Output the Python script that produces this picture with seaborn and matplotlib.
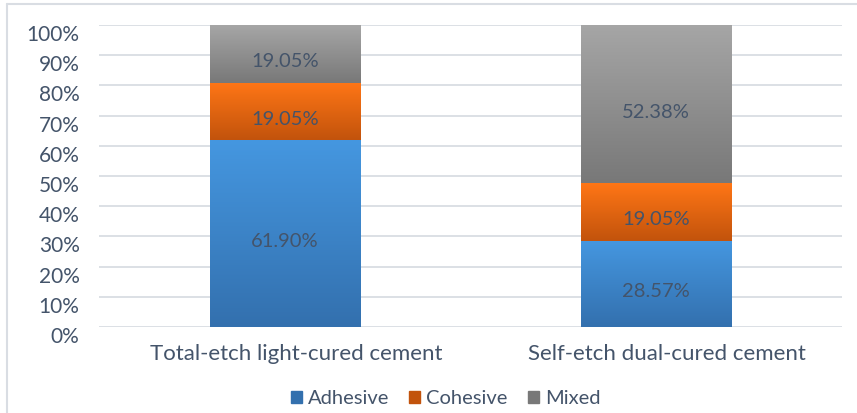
import matplotlib.pyplot as plt
import matplotlib.colors as mcolors
import matplotlib.transforms as mtransforms
import numpy as np
import pandas as pd
import seaborn as sns

# data
categories = ["Total-etch light-cured cement", "Self-etch dual-cured cement"]
series_names = ["Adhesive", "Cohesive", "Mixed"]
adhesive = [61.90, 28.57]
cohesive = [19.05, 19.05]
mixed = [19.05, 52.38]

# gradient (top, bottom) for each series, Excel-like
grad_colors = {
    "Adhesive": ("#4597E0", "#3370AE"),
    "Cohesive": ("#FF7616", "#C2530C"),
    "Mixed": ("#A6A6A6", "#787878"),
}
text_color = "#44546A"
grid_color = "#D9DDE3"

sns.set_theme(style="white")
plt.rcParams["font.family"] = ["Lato", "DejaVu Sans"]

df = pd.DataFrame({"category": categories, "Adhesive": adhesive,
                   "Cohesive": cohesive, "Mixed": mixed})

fig = plt.figure(figsize=(8.57, 4.13), dpi=100)
ax = fig.add_axes([99 / 857, 1 - 327 / 413, (842 - 99) / 857, (327 - 25) / 413])

# stacked bars: draw cumulative totals from top series down
cum = {"Adhesive": df["Adhesive"],
       "Cohesive": df["Adhesive"] + df["Cohesive"],
       "Mixed": df["Adhesive"] + df["Cohesive"] + df["Mixed"]}
for name in reversed(series_names):
    sns.barplot(x=df["category"], y=cum[name], color=grad_colors[name][0],
                width=0.404, ax=ax, zorder=2, linewidth=0)

ax.set_ylim(0, 100)
xl = ax.get_xlim()

# text in the source sits a few pixels low
down = mtransforms.ScaledTranslation(0, -8 / 100, fig.dpi_scale_trans)

# overlay vertical gradients on each segment
values = [adhesive, cohesive, mixed]
for idx, name in enumerate(series_names):
    top_c, bot_c = grad_colors[name]
    cmap = mcolors.LinearSegmentedColormap.from_list(name, [bot_c, top_c])
    grad = np.linspace(0, 1, 256).reshape(-1, 1)
    for i, cat in enumerate(categories):
        bottom = sum(values[k][i] for k in range(idx))
        height = values[idx][i]
        x0, x1 = i - 0.202, i + 0.202
        ax.imshow(grad, cmap=cmap, origin="lower", aspect="auto",
                  extent=(x0, x1, bottom, bottom + height), zorder=3)
        ax.text(i, bottom + height / 2, f"{height:.2f}%", ha="center", va="center",
                fontsize=14.5, color=text_color, zorder=4,
                transform=ax.transData + down)
ax.set_xlim(xl)
ax.set_ylim(0, 100)

ax.set_yticks(np.arange(0, 101, 10))
ax.set_yticklabels([f"{v}%" for v in range(0, 101, 10)])
ax.grid(axis="y", color=grid_color, linewidth=1.3, zorder=0)
ax.set_axisbelow(True)
for s in ax.spines.values():
    s.set_visible(False)
ax.tick_params(axis="y", length=0, labelsize=15, labelcolor=text_color, pad=14)
ax.tick_params(axis="x", length=0, labelsize=16, labelcolor=text_color, pad=12)
ax.set_xlabel("")
ax.set_ylabel("")

for lab in ax.get_yticklabels():
    lab.set_transform(lab.get_transform() + down)
right = mtransforms.ScaledTranslation(11 / 100, 0, fig.dpi_scale_trans)
for lab in ax.get_xticklabels():
    lab.set_transform(lab.get_transform() + right)

handles = [plt.Rectangle((0, 0), 1, 1, color=grad_colors[n][1]) for n in series_names]
fig.legend(handles, series_names, loc="lower center", bbox_to_anchor=(0.52, -0.03),
           ncol=3, frameon=False, fontsize=14.5, labelcolor=text_color,
           handlelength=0.55, handleheight=0.55, handletextpad=0.3, columnspacing=1.0)

# chart frame border
fig.add_artist(plt.Line2D([7 / 857, 7 / 857], [0, 1 - 4 / 413], color=grid_color, linewidth=1.5))
fig.add_artist(plt.Line2D([7 / 857, 1], [1 - 4 / 413, 1 - 4 / 413], color=grid_color, linewidth=1.5))

fig.savefig("out.png", dpi=100)
